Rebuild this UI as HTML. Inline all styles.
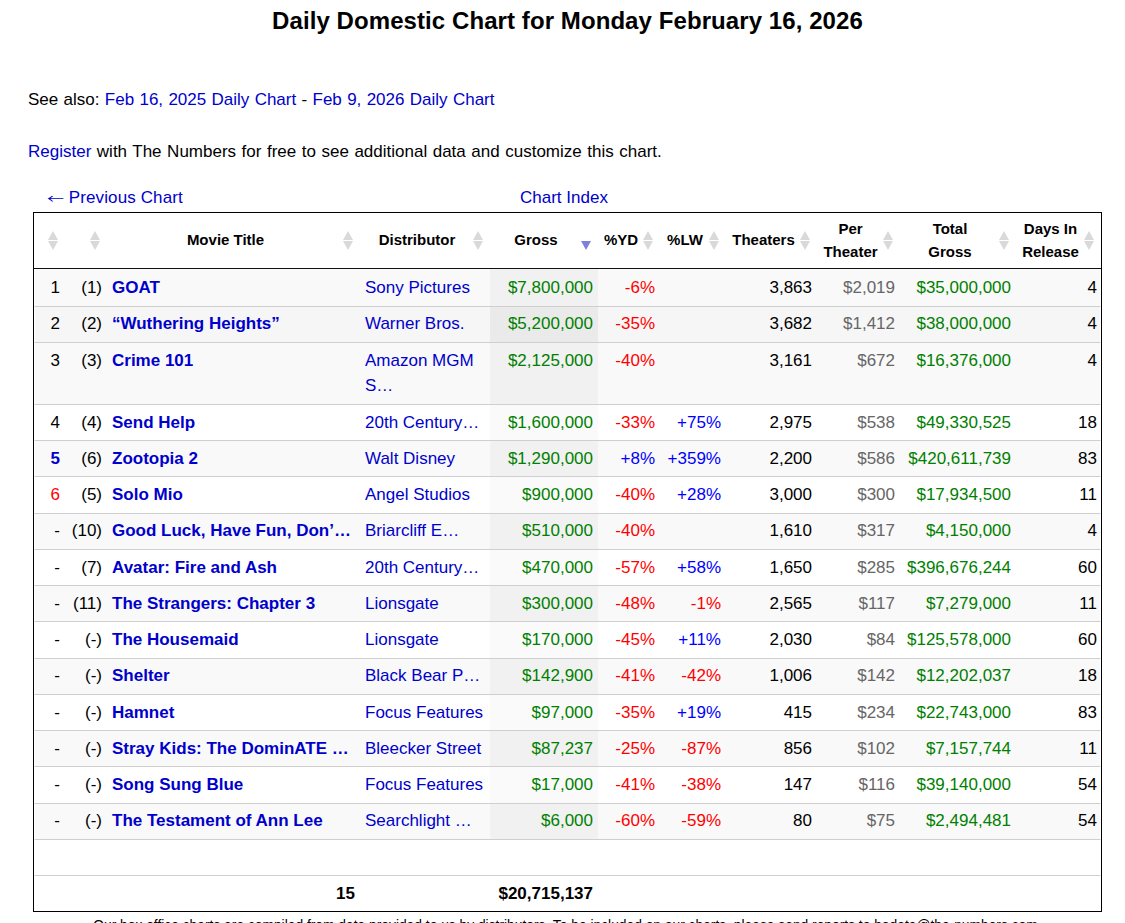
<!DOCTYPE html>
<html><head><meta charset="utf-8"><title>Daily Domestic Chart</title>
<style>
html,body{margin:0;padding:0;background:#fff;}
body{font-family:"Liberation Sans",Arial,sans-serif;color:#000;font-size:17px;width:1125px;height:923px;overflow:hidden;position:relative;}
a{color:#0000cc;text-decoration:none;}
.abs{position:absolute;white-space:nowrap;}
h1{position:absolute;margin:0;left:0;width:1135px;text-align:center;font-size:24px;font-weight:bold;top:3px;line-height:36px;letter-spacing:0.08px;}
.p{word-spacing:0.6px;}
.wrap{position:absolute;left:33px;top:212px;width:1067px;height:698px;border:1px solid #000;}
table{border-collapse:separate;border-spacing:0;table-layout:fixed;width:1067px;}
td:first-child{border-left:1px solid #fff;}
td:last-child{border-right:1px solid #fff;}
th{font-size:15px;font-weight:bold;line-height:22.5px;padding:5px 20px 5px 4px;height:45px;text-align:center;vertical-align:middle;border-bottom:1px solid #111;position:relative;}
th i{position:absolute;right:6px;top:50%;margin-top:-9.5px;width:11px;height:19px;}
th i.both::before{content:"";position:absolute;left:0;top:0;border-left:5.5px solid transparent;border-right:5.5px solid transparent;border-bottom:9px solid #d9d9d9;}
th i.both::after{content:"";position:absolute;left:0;top:10px;border-left:5.5px solid transparent;border-right:5.5px solid transparent;border-top:9px solid #d9d9d9;}
th i.desc::after{content:"";position:absolute;left:0;top:10px;border-left:5.5px solid transparent;border-right:5.5px solid transparent;border-top:9px solid #7f7fdd;}
td{padding:var(--pt,5px) 5px 0 5px;vertical-align:top;line-height:25px;border-top:1px solid #cfcfcf;white-space:normal;}
tr.first td{border-top:none;}
td.r{text-align:right;}
td.l{text-align:left;}
tr.odd td{background:#f9f9f9;}
tr.odd td.s{background:#f1f1f1;}
tr.even td.s{background:#fafafa;}
tr.hov td{background:#f6f6f6;}
tr.hov td.s{background:#eaeaea;}
a.t{font-weight:bold;}
.g{color:#008000;}
.gr{color:#666;}
.neg{color:#f00;}
.pos{color:#0000ff;}
.up{color:#0000cc;font-weight:bold;}
.dn{color:#f00;}
.b{font-weight:bold;}
.note{position:absolute;left:0;width:1131px;text-align:center;top:918px;font-size:13.8px;line-height:16px;white-space:nowrap;}
.arr{font-family:"Noto Sans CJK JP",sans-serif;line-height:1px;display:inline-block;transform:scaleY(0.72);position:relative;top:3px;}
td.last{padding-right:3px;}
th.last i{right:6px;}
</style></head><body>
<h1>Daily Domestic Chart for Monday February 16, 2026</h1>
<div class="abs p" style="left:28px;top:90px;">See also: <a>Feb 16, 2025 Daily Chart</a> - <a>Feb 9, 2026 Daily Chart</a></div>
<div class="abs p" style="left:28px;top:142px;word-spacing:0.8px"><a>Register</a> with The Numbers for free to see additional data and customize this chart.</div>
<div class="abs" style="left:47px;top:188px;line-height:20px"><a><span class="arr">←</span> <span style="letter-spacing:0.12px">Previous Chart</span></a></div>
<div class="abs" style="left:520px;top:188px;line-height:20px"><a>Chart Index</a></div>
<div class="wrap">
<table><colgroup><col style="width:31px"><col style="width:42px"><col style="width:253px"><col style="width:130px"><col style="width:108px"><col style="width:62px"><col style="width:66px"><col style="width:91px"><col style="width:83px"><col style="width:116px"><col style="width:85px"></colgroup>
<thead><tr><th><span class="lbl"></span><i class="both"></i></th><th><span class="lbl"></span><i class="both"></i></th><th><span class="lbl">Movie Title</span><i class="both"></i></th><th><span class="lbl">Distributor</span><i class="both"></i></th><th><span class="lbl">Gross</span><i class="desc"></i></th><th><span class="lbl">%YD</span><i class="both"></i></th><th><span class="lbl">%LW</span><i class="both"></i></th><th><span class="lbl">Theaters</span><i class="both"></i></th><th><span class="lbl">Per<br>Theater</span><i class="both"></i></th><th><span class="lbl">Total<br>Gross</span><i class="both"></i></th><th class="last"><span class="lbl">Days In<br>Release</span><i class="both"></i></th></tr></thead>
<tbody>
<tr class="odd first" style="height:37px;--pt:6px"><td class="r">1</td><td class="r">(1)</td><td class="l"><a class="t">GOAT</a></td><td class="l"><a>Sony Pictures</a></td><td class="r s g">$7,800,000</td><td class="r"><span class="neg">-6%</span></td><td class="r"></td><td class="r">3,863</td><td class="r gr">$2,019</td><td class="r g">$35,000,000</td><td class="r last">4</td></tr>
<tr class="hov" style="height:36px;--pt:4px"><td class="r">2</td><td class="r">(2)</td><td class="l"><a class="t">“Wuthering Heights”</a></td><td class="l"><a>Warner Bros.</a></td><td class="r s g">$5,200,000</td><td class="r"><span class="neg">-35%</span></td><td class="r"></td><td class="r">3,682</td><td class="r gr">$1,412</td><td class="r g">$38,000,000</td><td class="r last">4</td></tr>
<tr class="odd" style="height:62px;--pt:5px"><td class="r">3</td><td class="r">(3)</td><td class="l"><a class="t">Crime 101</a></td><td class="l"><a>Amazon MGM S…</a></td><td class="r s g">$2,125,000</td><td class="r"><span class="neg">-40%</span></td><td class="r"></td><td class="r">3,161</td><td class="r gr">$672</td><td class="r g">$16,376,000</td><td class="r last">4</td></tr>
<tr class="even" style="height:36px;--pt:5px"><td class="r">4</td><td class="r">(4)</td><td class="l"><a class="t">Send Help</a></td><td class="l"><a>20th Century…</a></td><td class="r s g">$1,600,000</td><td class="r"><span class="neg">-33%</span></td><td class="r"><span class="pos">+75%</span></td><td class="r">2,975</td><td class="r gr">$538</td><td class="r g">$49,330,525</td><td class="r last">18</td></tr>
<tr class="odd" style="height:36px;--pt:5px"><td class="r"><span class="up">5</span></td><td class="r">(6)</td><td class="l"><a class="t">Zootopia 2</a></td><td class="l"><a>Walt Disney</a></td><td class="r s g">$1,290,000</td><td class="r"><span class="pos">+8%</span></td><td class="r"><span class="pos">+359%</span></td><td class="r">2,200</td><td class="r gr">$586</td><td class="r g">$420,611,739</td><td class="r last">83</td></tr>
<tr class="even" style="height:37px;--pt:5px"><td class="r"><span class="dn">6</span></td><td class="r">(5)</td><td class="l"><a class="t">Solo Mio</a></td><td class="l"><a>Angel Studios</a></td><td class="r s g">$900,000</td><td class="r"><span class="neg">-40%</span></td><td class="r"><span class="pos">+28%</span></td><td class="r">3,000</td><td class="r gr">$300</td><td class="r g">$17,934,500</td><td class="r last">11</td></tr>
<tr class="odd" style="height:36px;--pt:4px"><td class="r">-</td><td class="r">(10)</td><td class="l"><a class="t">Good Luck, Have Fun, Don’…</a></td><td class="l"><a>Briarcliff E…</a></td><td class="r s g">$510,000</td><td class="r"><span class="neg">-40%</span></td><td class="r"></td><td class="r">1,610</td><td class="r gr">$317</td><td class="r g">$4,150,000</td><td class="r last">4</td></tr>
<tr class="even" style="height:36px;--pt:5px"><td class="r">-</td><td class="r">(7)</td><td class="l"><a class="t">Avatar: Fire and Ash</a></td><td class="l"><a>20th Century…</a></td><td class="r s g">$470,000</td><td class="r"><span class="neg">-57%</span></td><td class="r"><span class="pos">+58%</span></td><td class="r">1,650</td><td class="r gr">$285</td><td class="r g">$396,676,244</td><td class="r last">60</td></tr>
<tr class="odd" style="height:36px;--pt:5px"><td class="r">-</td><td class="r">(11)</td><td class="l"><a class="t">The Strangers: Chapter 3</a></td><td class="l"><a>Lionsgate</a></td><td class="r s g">$300,000</td><td class="r"><span class="neg">-48%</span></td><td class="r"><span class="neg">-1%</span></td><td class="r">2,565</td><td class="r gr">$117</td><td class="r g">$7,279,000</td><td class="r last">11</td></tr>
<tr class="even" style="height:37px;--pt:5px"><td class="r">-</td><td class="r">(-)</td><td class="l"><a class="t">The Housemaid</a></td><td class="l"><a>Lionsgate</a></td><td class="r s g">$170,000</td><td class="r"><span class="neg">-45%</span></td><td class="r"><span class="pos">+11%</span></td><td class="r">2,030</td><td class="r gr">$84</td><td class="r g">$125,578,000</td><td class="r last">60</td></tr>
<tr class="odd" style="height:36px;--pt:4px"><td class="r">-</td><td class="r">(-)</td><td class="l"><a class="t">Shelter</a></td><td class="l"><a>Black Bear P…</a></td><td class="r s g">$142,900</td><td class="r"><span class="neg">-41%</span></td><td class="r"><span class="neg">-42%</span></td><td class="r">1,006</td><td class="r gr">$142</td><td class="r g">$12,202,037</td><td class="r last">18</td></tr>
<tr class="even" style="height:36px;--pt:5px"><td class="r">-</td><td class="r">(-)</td><td class="l"><a class="t">Hamnet</a></td><td class="l"><a>Focus Features</a></td><td class="r s g">$97,000</td><td class="r"><span class="neg">-35%</span></td><td class="r"><span class="pos">+19%</span></td><td class="r">415</td><td class="r gr">$234</td><td class="r g">$22,743,000</td><td class="r last">83</td></tr>
<tr class="odd" style="height:36px;--pt:5px"><td class="r">-</td><td class="r">(-)</td><td class="l"><a class="t">Stray Kids: The DominATE …</a></td><td class="l"><a>Bleecker Street</a></td><td class="r s g">$87,237</td><td class="r"><span class="neg">-25%</span></td><td class="r"><span class="neg">-87%</span></td><td class="r">856</td><td class="r gr">$102</td><td class="r g">$7,157,744</td><td class="r last">11</td></tr>
<tr class="even" style="height:37px;--pt:5px"><td class="r">-</td><td class="r">(-)</td><td class="l"><a class="t">Song Sung Blue</a></td><td class="l"><a>Focus Features</a></td><td class="r s g">$17,000</td><td class="r"><span class="neg">-41%</span></td><td class="r"><span class="neg">-38%</span></td><td class="r">147</td><td class="r gr">$116</td><td class="r g">$39,140,000</td><td class="r last">54</td></tr>
<tr class="odd" style="height:36px;--pt:4px"><td class="r">-</td><td class="r">(-)</td><td class="l"><a class="t">The Testament of Ann Lee</a></td><td class="l"><a>Searchlight …</a></td><td class="r s g">$6,000</td><td class="r"><span class="neg">-60%</span></td><td class="r"><span class="neg">-59%</span></td><td class="r">80</td><td class="r gr">$75</td><td class="r g">$2,494,481</td><td class="r last">54</td></tr>
<tr class="blank" style="height:36px"><td></td><td></td><td></td><td></td><td></td><td></td><td></td><td></td><td></td><td></td><td></td></tr>
<tr class="foot" style="height:36px"><td></td><td></td><td class="r b">15</td><td></td><td class="r b">$20,715,137</td><td></td><td></td><td></td><td></td><td></td><td></td></tr>
</tbody></table>
</div>
<div class="note">Our box office charts are compiled from data provided to us by distributors. To be included on our charts, please send reports to bodata@the-numbers.com</div>
</body></html>
